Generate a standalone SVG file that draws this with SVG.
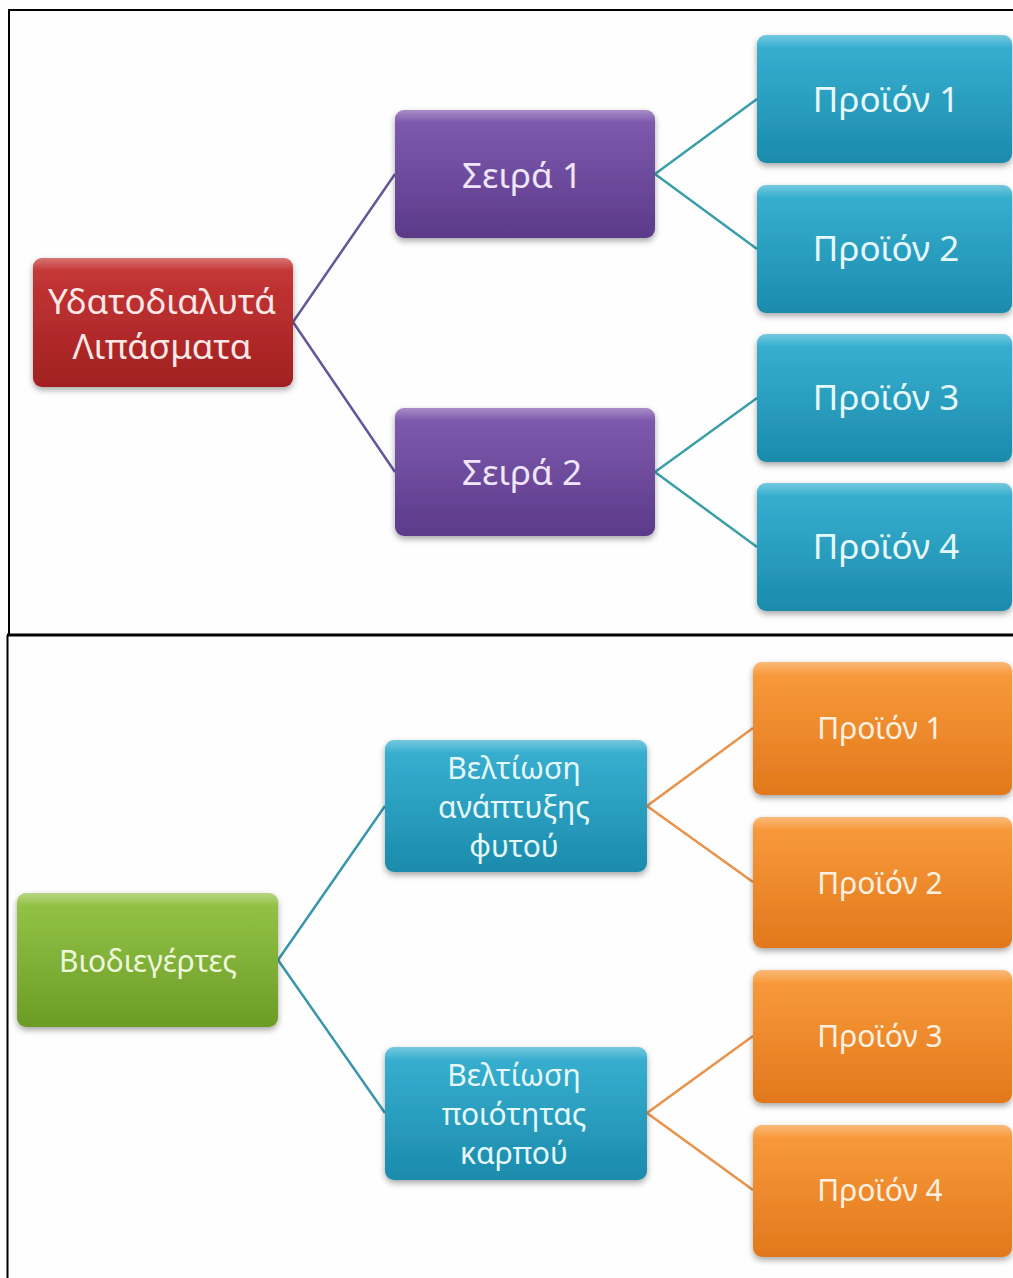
<svg xmlns="http://www.w3.org/2000/svg" width="1013" height="1278" viewBox="0 0 1013 1278">
<defs>
<linearGradient id="gRed" x1="0" y1="0" x2="0" y2="1"><stop offset="0" stop-color="#c42b2b"/><stop offset="1" stop-color="#a11f20"/></linearGradient>
<linearGradient id="gPur" x1="0" y1="0" x2="0" y2="1"><stop offset="0" stop-color="#7850aa"/><stop offset="1" stop-color="#5c3a8a"/></linearGradient>
<linearGradient id="gBlu" x1="0" y1="0" x2="0" y2="1"><stop offset="0" stop-color="#2caccf"/><stop offset="1" stop-color="#1b8bac"/></linearGradient>
<linearGradient id="gGrn" x1="0" y1="0" x2="0" y2="1"><stop offset="0" stop-color="#8ec03c"/><stop offset="1" stop-color="#6b9c26"/></linearGradient>
<linearGradient id="gOrg" x1="0" y1="0" x2="0" y2="1"><stop offset="0" stop-color="#f99530"/><stop offset="1" stop-color="#e2781c"/></linearGradient>
<linearGradient id="gloss" x1="0" y1="0" x2="0" y2="1"><stop offset="0" stop-color="#fff" stop-opacity="0.35"/><stop offset="0.1" stop-color="#fff" stop-opacity="0.06"/><stop offset="1" stop-color="#fff" stop-opacity="0"/></linearGradient>
<filter id="sh" x="-10%" y="-10%" width="120%" height="130%"><feDropShadow dx="0" dy="3" stdDeviation="3" flood-color="#000" flood-opacity="0.35"/></filter>
</defs>
<style>
.box{filter:url(#sh);}
.gl{fill:url(#gloss);}
.t{font-family:"Noto Sans","Open Sans",sans-serif;text-anchor:middle;dominant-baseline:central;}
.big{font-size:35px;}
.sm{font-size:30px;}
.c1{stroke:#62589a;stroke-width:2.5;fill:none;}
.c2{stroke:#3a9fa8;stroke-width:2.5;fill:none;}
.c3{stroke:#3a96ae;stroke-width:2.5;fill:none;}
.c4{stroke:#e8924a;stroke-width:2.5;fill:none;}
</style>
<rect width="1013" height="1278" fill="#fefefe"/>
<g id="frames" fill="none" stroke="#000">
<rect x="9" y="10" width="1020" height="625" stroke-width="2"/>
<line x1="7" y1="635" x2="1013" y2="635" stroke-width="3"/>
<line x1="7.5" y1="635" x2="7.5" y2="1278" stroke-width="2"/>
</g>
<g id="connectors">
<path class="c1" d="M293,322 L395,174 M293,322 L395,472"/>
<path class="c2" d="M655,174 L757,99 M655,174 L757,249 M655,472 L757,398 M655,472 L757,547"/>
<path class="c3" d="M278,960 L385,806 M278,960 L385,1113"/>
<path class="c4" d="M647,806 L753,728 M647,806 L753,882 M647,1113 L753,1036 M647,1113 L753,1190"/>
</g>
<g id="n-ydato"><rect class="box" x="33" y="258" width="260" height="129" rx="9" fill="url(#gRed)"/><rect class="gl" x="33" y="258" width="260" height="129" rx="9"/>
<text class="t big" x="162" y="300" fill="#fde8e8">Υδατοδιαλυτά</text><text class="t big" x="162" y="345" fill="#fde8e8">Λιπάσματα</text></g>
<g id="n-seira1"><rect class="box" x="395" y="110" width="260" height="128" rx="9" fill="url(#gPur)"/><rect class="gl" x="395" y="110" width="260" height="128" rx="9"/>
<text class="t big" x="522" y="174" fill="#efe6fb">Σειρά 1</text></g>
<g id="n-seira2"><rect class="box" x="395" y="408" width="260" height="128" rx="9" fill="url(#gPur)"/><rect class="gl" x="395" y="408" width="260" height="128" rx="9"/>
<text class="t big" x="522" y="471" fill="#efe6fb">Σειρά 2</text></g>
<g id="n-p1"><rect class="box" x="757" y="35" width="255" height="128" rx="9" fill="url(#gBlu)"/><rect class="gl" x="757" y="35" width="255" height="128" rx="9"/>
<text class="t big" x="886" y="98" fill="#e6f8fc">Προϊόν 1</text></g>
<g id="n-p2"><rect class="box" x="757" y="185" width="255" height="128" rx="9" fill="url(#gBlu)"/><rect class="gl" x="757" y="185" width="255" height="128" rx="9"/>
<text class="t big" x="886" y="247" fill="#e6f8fc">Προϊόν 2</text></g>
<g id="n-p3"><rect class="box" x="757" y="334" width="255" height="128" rx="9" fill="url(#gBlu)"/><rect class="gl" x="757" y="334" width="255" height="128" rx="9"/>
<text class="t big" x="886" y="396" fill="#e6f8fc">Προϊόν 3</text></g>
<g id="n-p4"><rect class="box" x="757" y="483" width="255" height="128" rx="9" fill="url(#gBlu)"/><rect class="gl" x="757" y="483" width="255" height="128" rx="9"/>
<text class="t big" x="886" y="545" fill="#e6f8fc">Προϊόν 4</text></g>
<g id="n-bio"><rect class="box" x="17" y="893" width="261" height="134" rx="9" fill="url(#gGrn)"/><rect class="gl" x="17" y="893" width="261" height="134" rx="9"/>
<text class="t sm" x="148" y="960" fill="#eef8dc">Βιοδιεγέρτες</text></g>
<g id="n-anapt"><rect class="box" x="385" y="740" width="262" height="132" rx="9" fill="url(#gBlu)"/><rect class="gl" x="385" y="740" width="262" height="132" rx="9"/>
<text class="t sm" x="514" y="767" fill="#e6f8fc">Βελτίωση</text><text class="t sm" x="514" y="806" fill="#e6f8fc">ανάπτυξης</text><text class="t sm" x="514" y="845" fill="#e6f8fc">φυτού</text></g>
<g id="n-poiot"><rect class="box" x="385" y="1047" width="262" height="133" rx="9" fill="url(#gBlu)"/><rect class="gl" x="385" y="1047" width="262" height="133" rx="9"/>
<text class="t sm" x="514" y="1074" fill="#e6f8fc">Βελτίωση</text><text class="t sm" x="514" y="1113" fill="#e6f8fc">ποιότητας</text><text class="t sm" x="514" y="1152" fill="#e6f8fc">καρπού</text></g>
<g id="n-o1"><rect class="box" x="753" y="662" width="259" height="133" rx="9" fill="url(#gOrg)"/><rect class="gl" x="753" y="662" width="259" height="133" rx="9"/>
<text class="t sm" x="880" y="727" fill="#fff1e0">Προϊόν 1</text></g>
<g id="n-o2"><rect class="box" x="753" y="817" width="259" height="131" rx="9" fill="url(#gOrg)"/><rect class="gl" x="753" y="817" width="259" height="131" rx="9"/>
<text class="t sm" x="880" y="882" fill="#fff1e0">Προϊόν 2</text></g>
<g id="n-o3"><rect class="box" x="753" y="970" width="259" height="133" rx="9" fill="url(#gOrg)"/><rect class="gl" x="753" y="970" width="259" height="133" rx="9"/>
<text class="t sm" x="880" y="1035" fill="#fff1e0">Προϊόν 3</text></g>
<g id="n-o4"><rect class="box" x="753" y="1125" width="259" height="132" rx="9" fill="url(#gOrg)"/><rect class="gl" x="753" y="1125" width="259" height="132" rx="9"/>
<text class="t sm" x="880" y="1189" fill="#fff1e0">Προϊόν 4</text></g>
</svg>
